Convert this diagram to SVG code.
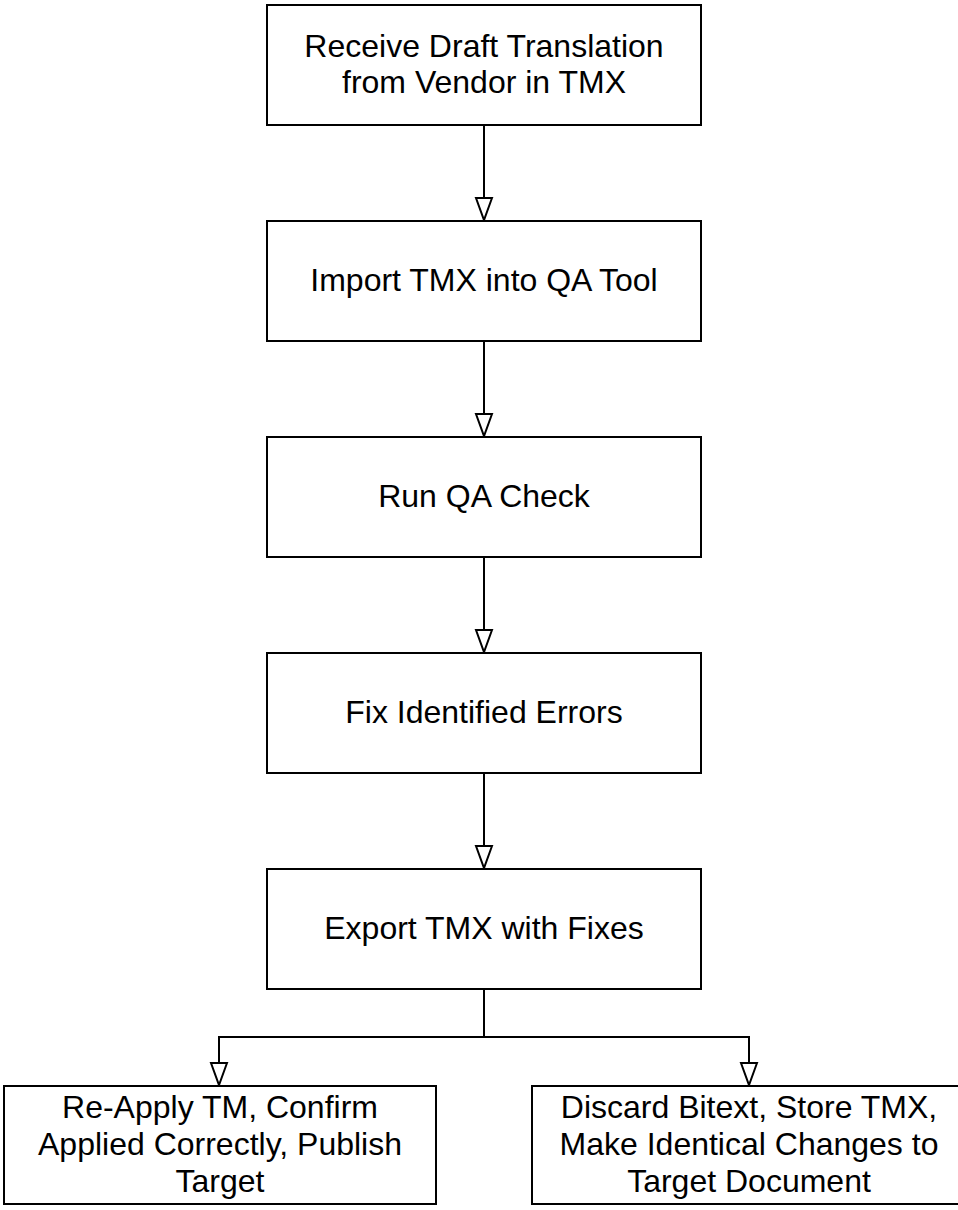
<svg xmlns="http://www.w3.org/2000/svg" width="958" height="1210" viewBox="0 0 958 1210">
  <style>
    .box { fill: #ffffff; stroke: #000000; stroke-width: 2; }
    .label { font-family: "Liberation Sans", Arial, Helvetica, sans-serif; font-size: 32px; fill: #000000; text-anchor: middle; }
    .edge { fill: none; stroke: #000000; stroke-width: 2; }
  </style>
  <defs>
    <!-- open (hollow) triangular arrowhead -->
    <marker id="open-arrow" markerUnits="userSpaceOnUse" markerWidth="26" markerHeight="20" refX="23" refY="9" orient="auto" overflow="visible">
      <path d="M1,1 L23,9 L1,17 Z" fill="#ffffff" stroke="#000000" stroke-width="2" stroke-linejoin="miter"/>
    </marker>
  </defs>
  <rect width="958" height="1210" fill="#ffffff"/>

  <g id="connectors">
    <path class="edge" d="M484,125 V220" marker-end="url(#open-arrow)"/>
    <path class="edge" d="M484,341 V436" marker-end="url(#open-arrow)"/>
    <path class="edge" d="M484,557 V652" marker-end="url(#open-arrow)"/>
    <path class="edge" d="M484,773 V868" marker-end="url(#open-arrow)"/>
    <path class="edge" d="M484,989 V1037 H219 V1085" marker-end="url(#open-arrow)"/>
    <path class="edge" d="M484,1037 H749 V1085" marker-end="url(#open-arrow)"/>
  </g>

  <g id="receive-draft">
    <rect class="box" x="267" y="5" width="434" height="120"/>
    <text class="label" x="484" y="56.7">Receive Draft Translation</text>
    <text class="label" x="484" y="93.3">from Vendor in TMX</text>
  </g>

  <g id="import-tmx">
    <rect class="box" x="267" y="221" width="434" height="120"/>
    <text class="label" x="484" y="291">Import TMX into QA Tool</text>
  </g>

  <g id="run-qa">
    <rect class="box" x="267" y="437" width="434" height="120"/>
    <text class="label" x="484" y="507">Run QA Check</text>
  </g>

  <g id="fix-errors">
    <rect class="box" x="267" y="653" width="434" height="120"/>
    <text class="label" x="484" y="723">Fix Identified Errors</text>
  </g>

  <g id="export-tmx">
    <rect class="box" x="267" y="869" width="434" height="120"/>
    <text class="label" x="484" y="939">Export TMX with Fixes</text>
  </g>

  <g id="reapply-tm">
    <rect class="box" x="4" y="1086" width="432" height="118"/>
    <text class="label" x="220" y="1118.3">Re-Apply TM, Confirm</text>
    <text class="label" x="220" y="1155">Applied Correctly, Publish</text>
    <text class="label" x="220" y="1191.7">Target</text>
  </g>

  <g id="discard-bitext">
    <rect class="box" x="532" y="1086" width="434" height="118"/>
    <text class="label" x="749" y="1118.3">Discard Bitext, Store TMX,</text>
    <text class="label" x="749" y="1155">Make Identical Changes to</text>
    <text class="label" x="749" y="1191.7">Target Document</text>
  </g>
</svg>
